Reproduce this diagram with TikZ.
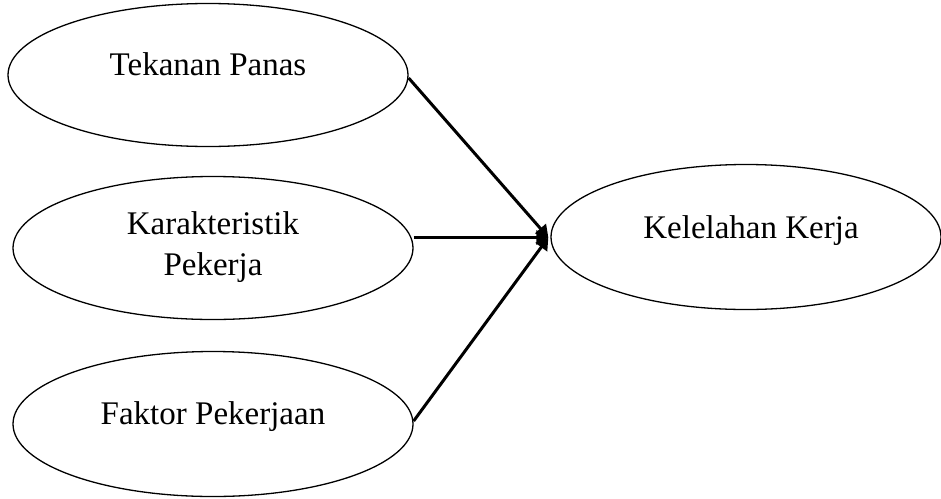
\documentclass[tikz,border=0pt]{standalone}
\usepackage{fontspec}
\setmainfont{Liberation Serif}
\usetikzlibrary{shapes.geometric,arrows.meta}
\begin{document}
\begin{tikzpicture}[x=1pt,y=-1pt,
  ell/.style={draw=black,line width=1.3pt,ellipse,inner sep=0pt},
  txt/.style={inner sep=0pt,align=center,font=\fontsize{33}{41}\selectfont},
  conn/.style={line width=3pt,-{Triangle[length=12pt,width=14pt]}}]
\useasboundingbox (0,0) rectangle (941,498);
\node[ell,minimum width=400pt,minimum height=143pt] (e1) at (208,75) {};
\node[ell,minimum width=400pt,minimum height=143pt] (e2) at (213,248) {};
\node[ell,minimum width=400pt,minimum height=145pt] (e3) at (213,424) {};
\node[ell,minimum width=390pt,minimum height=145pt] (e4) at (746,237) {};
\node[txt,anchor=base] (t1) at (e1.center) {Tekanan Panas};
\node[txt] (t2) at ([yshift=1pt]e2.center) {Karakteristik\\Pekerja};
\node[txt,anchor=base] (t3) at (e3.center) {Faktor Pekerjaan};
\node[txt,anchor=base] (t4) at ([xshift=5pt,yshift=-1pt]e4.center) {Kelelahan Kerja};
\coordinate (tip) at ([xshift=-2pt,yshift=-0.5pt]e4.west);
\draw[conn] ([yshift=-3pt]e1.east) -- (tip);
\draw[conn] (e2.east |- tip) -- (tip);
\draw[conn] ([yshift=3pt]e3.east) -- (tip);
\end{tikzpicture}
\end{document}
